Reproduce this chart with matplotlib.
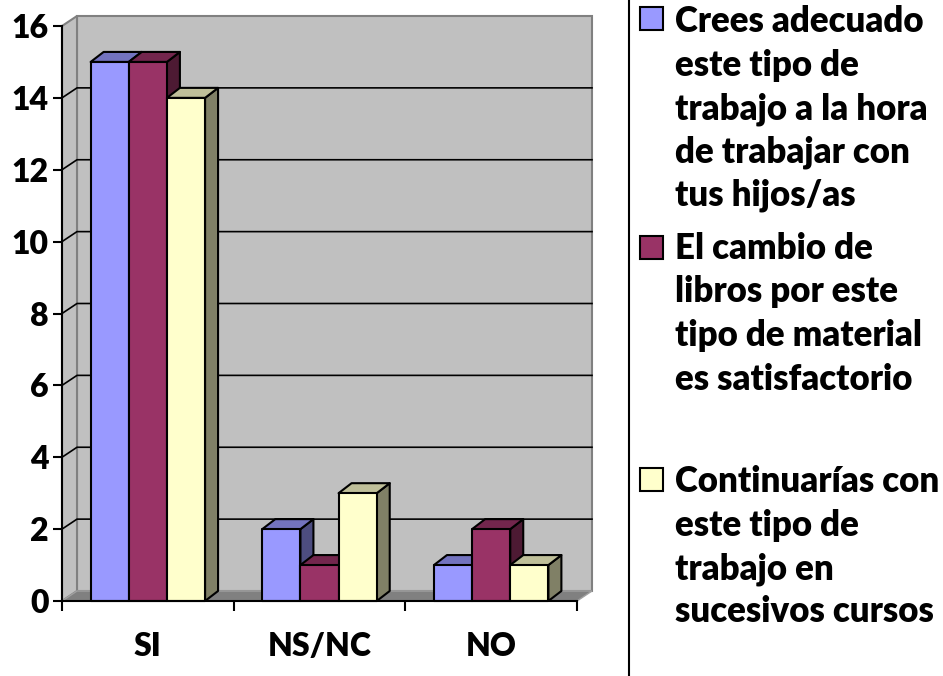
import matplotlib
matplotlib.use("Agg")
import matplotlib.pyplot as plt
from matplotlib.patches import Polygon, Rectangle
from matplotlib.lines import Line2D

plt.rcParams['font.family'] = ['Lato', 'DejaVu Sans']
plt.rcParams['font.weight'] = 'heavy'

# ---- data ----
categories = ["SI", "NS/NC", "NO"]
series_labels = [
    "Crees adecuado\neste tipo de\ntrabajo a la hora\nde trabajar con\ntus hijos/as",
    "El cambio de\nlibros por este\ntipo de material\nes satisfactorio",
    "Continuarías con\neste tipo de\ntrabajo en\nsucesivos cursos",
]
serie1 = [15, 2, 1]
serie2 = [15, 1, 2]
serie3 = [14, 3, 1]
series_values = [serie1, serie2, serie3]
yticks = [0, 2, 4, 6, 8, 10, 12, 14, 16]

# ---- styles ----
front_colors = ["#9999FF", "#993366", "#FFFFCC"]
top_colors = ["#7373BF", "#73264D", "#BFBF99"]
side_colors = ["#4D4D80", "#4D1A33", "#808066"]

W, H = 943, 676
fig = plt.figure(figsize=(W / 100, H / 100), dpi=100)
ax = fig.add_axes([62 / W, 75 / H, 515 / W, 575 / H])
ncat = len(categories)
ymax = 16
ax.set_xlim(0, ncat)
ax.set_ylim(0, ymax)
ax.patch.set_visible(False)

px_x = ncat / 515.0
px_y = ymax / 575.0
wdx, wdy = 15 * px_x, 10 * px_y   # wall depth
bdx, bdy = 13 * px_x, 10 * px_y   # bar depth

wall = "#C0C0C0"
wall_edge = "#808080"
ax.add_patch(Polygon([(wdx, wdy), (ncat + wdx, wdy), (ncat + wdx, ymax + wdy), (wdx, ymax + wdy)],
                     closed=True, facecolor=wall, edgecolor=wall_edge, lw=1.5, clip_on=False, zorder=0.5))
ax.add_patch(Polygon([(0, 0), (wdx, wdy), (wdx, ymax + wdy), (0, ymax)],
                     closed=True, facecolor=wall, edgecolor=wall_edge, lw=1.5, clip_on=False, zorder=0.5))
ax.add_patch(Polygon([(0, 0), (ncat, 0), (ncat + wdx, wdy), (wdx, wdy)],
                     closed=True, facecolor="#808080", edgecolor="#A0A0A0", lw=1.0, clip_on=False, zorder=0.55))
for yv in yticks[1:-1]:
    ax.add_line(Line2D([0, wdx, ncat + wdx], [yv, yv + wdy, yv + wdy], color="black", lw=1.2,
                       clip_on=False, zorder=0.6))

nser = len(series_values)
bw = 1.0 / (nser + 1.5)
z = 1
for i in range(ncat):
    for j in range(nser):
        v = series_values[j][i]
        x0 = i + 0.75 * bw + j * bw
        ax.add_patch(Polygon([(x0 + bw, 0), (x0 + bw + bdx, bdy), (x0 + bw + bdx, v + bdy), (x0 + bw, v)],
                             closed=True, facecolor=side_colors[j], edgecolor="black", lw=1.5,
                             joinstyle="round", clip_on=False, zorder=z))
        ax.add_patch(Polygon([(x0, v), (x0 + bw, v), (x0 + bw + bdx, v + bdy), (x0 + bdx, v + bdy)],
                             closed=True, facecolor=top_colors[j], edgecolor="black", lw=1.5,
                             joinstyle="round", clip_on=False, zorder=z + 0.1))
        ax.add_patch(Rectangle((x0, 0), bw, v, facecolor=front_colors[j], edgecolor="black", lw=1.5,
                               joinstyle="round", clip_on=False, zorder=z + 0.2))
        z += 1

for s in ["top", "right"]:
    ax.spines[s].set_visible(False)
for s in ["left", "bottom"]:
    ax.spines[s].set_color("black")
    ax.spines[s].set_linewidth(1.5)
    ax.spines[s].set_zorder(50)
ax.set_yticks(yticks)
ax.set_yticklabels([str(t) for t in yticks])
ax.tick_params(axis="y", direction="out", length=6.5, width=1.5, labelsize=23, pad=3)
ax.set_xticks(range(ncat + 1))
ax.set_xticklabels([])
ax.tick_params(axis="x", which="major", direction="out", length=7, width=1.5)
ax.set_xticks([i + 0.5 for i in range(ncat)], minor=True)
ax.set_xticklabels(categories, minor=True)
ax.tick_params(axis="x", which="minor", length=0, labelsize=23, pad=22)

fig.add_artist(Line2D([629 / W, 629 / W], [0, 1], color="black", lw=1.5, transform=fig.transFigure))
marker_tops = [7, 236, 468]
first_baselines = [32, 259, 492]
line_step = 43.5
for j, lab in enumerate(series_labels):
    fig.add_artist(Rectangle((640 / W, 1 - (marker_tops[j] + 23) / H), 23 / W, 23 / H,
                             facecolor=front_colors[j], edgecolor="black", lw=1.5,
                             transform=fig.transFigure))
    for k, line in enumerate(lab.split("\n")):
        yb = first_baselines[j] + k * line_step
        fig.text(675 / W, 1 - yb / H, line, fontsize=25, fontweight="heavy",
                 ha="left", va="baseline")

fig.savefig("out.png", dpi=100)
